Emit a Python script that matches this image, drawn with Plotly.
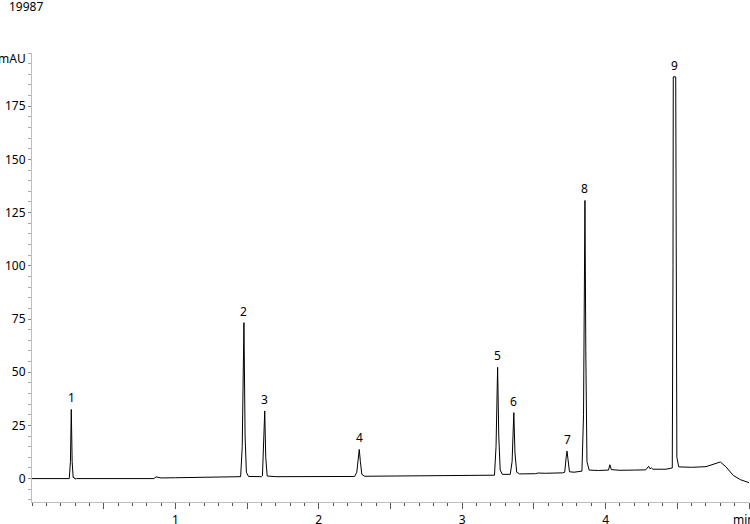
import plotly.graph_objects as go

# chromatogram trace (time in min, signal in mAU)
time_min = [
    0.00, 0.26, 0.268, 0.274, 0.280, 0.287, 0.293, 0.30, 0.31,
    0.85, 0.865, 0.88, 0.90, 1.00, 1.40,
    1.455, 1.466, 1.478, 1.486, 1.495, 1.51, 1.60,
    1.607, 1.615, 1.623, 1.630, 1.64, 1.70,
    2.25, 2.265, 2.273, 2.282, 2.29, 2.30, 2.32,
    2.60, 3.00, 3.20,
    3.225, 3.236, 3.247, 3.255, 3.265, 3.28,
    3.335, 3.348, 3.360, 3.368, 3.38, 3.40,
    3.47, 3.49, 3.51, 3.53, 3.58, 3.70,
    3.715, 3.725, 3.731, 3.738, 3.748, 3.78,
    3.835, 3.846, 3.856, 3.862, 3.87, 3.885, 3.95,
    4.02, 4.03, 4.04, 4.10, 4.20,
    4.28, 4.30, 4.31, 4.32, 4.33, 4.42,
    4.465, 4.470, 4.472, 4.489, 4.491, 4.497, 4.51,
    4.60, 4.70, 4.76, 4.80, 4.84, 4.89, 4.94, 5.00,
]
signal_mau = [
    0.0, 0.0, 8, 32.5, 8, 0.5, 0.6, -0.2, 0.0,
    0.0, 0.8, 0.7, 0.3, 0.4, 0.7,
    0.9, 15, 73.3, 20, 3, 1.0, 0.9,
    1.3, 15, 31.8, 10, 1.2, 0.9,
    1.0, 3, 10, 13.7, 8, 2, 1.1,
    1.2, 1.3, 1.4,
    1.6, 15, 52.3, 20, 4, 2.0,
    2.0, 8, 31, 12, 3, 2.2,
    2.2, 2.5, 2.3, 2.6, 2.5, 2.7,
    3.0, 10, 12.9, 9, 3.2, 3.0,
    3.5, 30, 130.7, 60, 8, 4.0, 3.8,
    4.0, 6.5, 4.2, 3.9, 4.0,
    4.1, 5.8, 4.6, 5.0, 4.4, 4.4,
    5.0, 100, 188.8, 188.8, 100, 10, 5.5,
    5.3, 5.6, 7.0, 7.8, 5.5, 1.5, -0.5, -1.9,
]

# numbered peaks
peak_names = ["1", "2", "3", "4", "5", "6", "7", "8", "9"]
peak_time = [0.274, 1.478, 1.623, 2.282, 3.247, 3.360, 3.731, 3.856, 4.480]
peak_height = [32.5, 73.3, 31.8, 13.7, 52.3, 31.0, 12.9, 130.7, 188.8]

x_tickvals = [0.5, 1, 1.5, 2, 2.5, 3, 3.5, 4, 4.5, 5]
x_ticktext = ["", "1", "", "2", "", "3", "", "4", "", ""]
y_tickvals = [0, 25, 50, 75, 100, 125, 150, 175]

axis_grey = "#bdbdbd"
font_family = "Noto Sans, DejaVu Sans, sans-serif"

fig = go.Figure()
fig.add_trace(go.Scatter(
    x=time_min, y=signal_mau, mode="lines",
    line=dict(color="black", width=1),
    hoverinfo="skip", showlegend=False,
))

for name, t, h in zip(peak_names, peak_time, peak_height):
    fig.add_annotation(x=t, y=h, text=name, showarrow=False,
                       yanchor="bottom", yshift=1,
                       font=dict(size=12, color="black", family=font_family))

fig.add_annotation(x=5, y=0, xref="x", yref="paper", text="min",
                   showarrow=False, xanchor="left", yanchor="top",
                   xshift=-18, yshift=-7,
                   font=dict(size=12, color="black", family=font_family))
fig.add_annotation(x=0, y=1, xref="paper", yref="paper", text="mAU",
                   showarrow=False, xanchor="right", yanchor="middle",
                   xshift=-4, yshift=-5,
                   font=dict(size=12, color="black", family=font_family))
fig.add_annotation(x=0, y=1, xref="paper", yref="paper", text="19987",
                   showarrow=False, xanchor="left", yanchor="middle",
                   xshift=-25, yshift=47,
                   font=dict(size=12, color="black", family=font_family))

fig.update_xaxes(
    range=[0, 5], showgrid=False, zeroline=False, automargin=False,
    showline=True, linecolor=axis_grey, linewidth=1,
    tickmode="array", tickvals=x_tickvals, ticktext=x_ticktext,
    ticks="outside", ticklen=6, tickcolor="#555555", tickwidth=1,
    ticklabelstandoff=1,
    minor=dict(dtick=0.1, ticks="outside", ticklen=3, tickcolor="#555555", showgrid=False),
    tickfont=dict(size=12, color="black", family=font_family),
)
fig.update_yaxes(
    range=[-11, 200], showgrid=False, zeroline=False, automargin=False,
    showline=True, linecolor=axis_grey, linewidth=1,
    tickmode="array", tickvals=y_tickvals,
    ticks="outside", ticklen=3, tickcolor="#888888", tickwidth=1,
    minor=dict(dtick=5, tick0=0, ticks="outside", ticklen=3, tickcolor="#aaaaaa", showgrid=False),
    tickfont=dict(size=12, color="black", family=font_family),
)

fig.update_layout(
    width=750, height=524,
    margin=dict(l=32, r=1, t=53, b=22),
    plot_bgcolor="white", paper_bgcolor="white",
    showlegend=False,
)

# drop the browser's default 8px body margin so the figure fills the window
fig.write_html("out.html", config={"displayModeBar": False},
               post_script="document.body.style.margin='0';")
